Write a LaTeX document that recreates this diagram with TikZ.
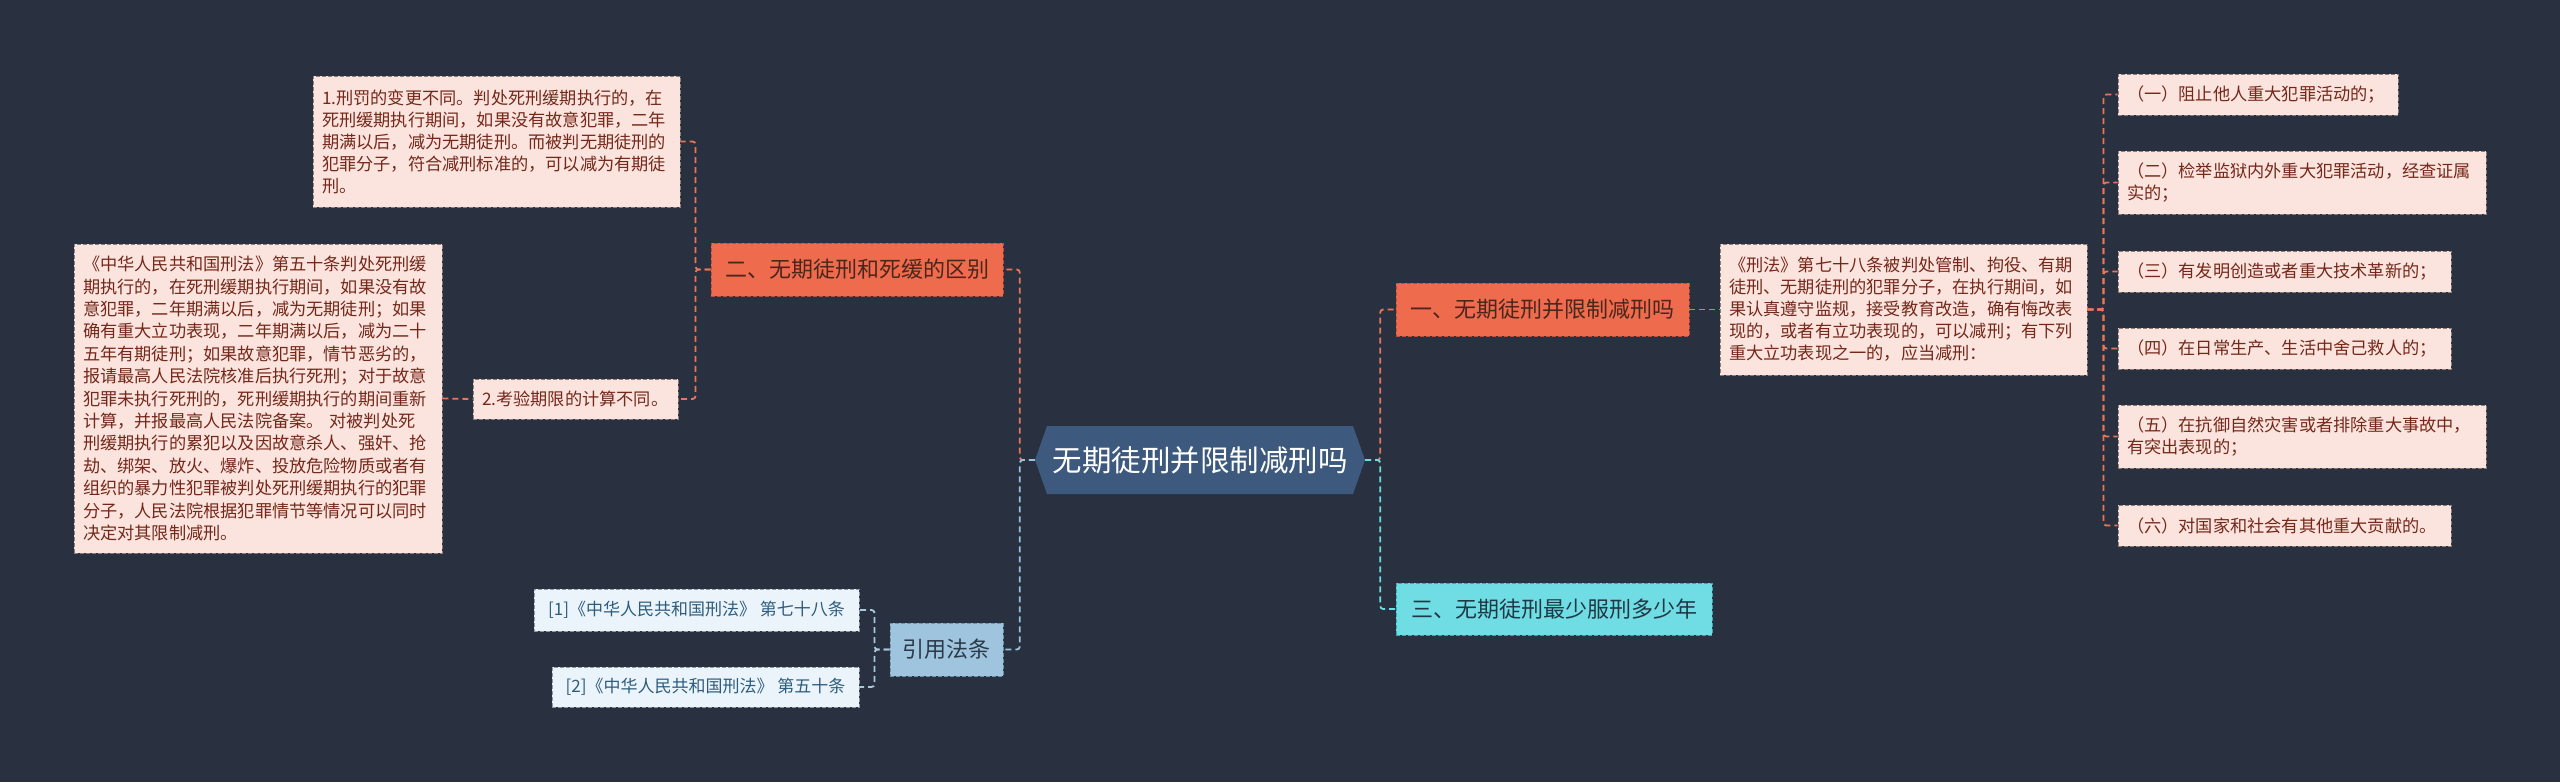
\documentclass[tikz,border=0pt]{standalone}
\usepackage{fontspec}
\setmainfont{Noto Sans CJK SC}
\definecolor{bg}{HTML}{29303F}
\definecolor{cfill}{HTML}{3D5A7E}
\definecolor{ofill}{HTML}{EE6B4D}
\definecolor{oborder}{HTML}{B9513A}
\definecolor{otext}{HTML}{4A261C}
\definecolor{pfill}{HTML}{FCE4DE}
\definecolor{pborder}{HTML}{8E7E7B}
\definecolor{ptext}{HTML}{74281A}
\definecolor{cyfill}{HTML}{6FDDE3}
\definecolor{cyborder}{HTML}{3AA7B3}
\definecolor{cytext}{HTML}{1F3845}
\definecolor{bfill}{HTML}{9FC4DE}
\definecolor{bborder}{HTML}{6E93AD}
\definecolor{btext}{HTML}{2B3A4A}
\definecolor{rfill}{HTML}{EAF4FA}
\definecolor{rborder}{HTML}{8A9BA8}
\definecolor{rtext}{HTML}{2E5C7D}
\definecolor{redl}{HTML}{E8775A}
\definecolor{cyl}{HTML}{6ADDE5}
\definecolor{bluel}{HTML}{96C4E0}
\definecolor{refl}{HTML}{A8C8DE}
\tikzset{
  pink/.style={fill=pfill, draw=pborder, line width=0.9pt, dash pattern=on 4pt off 2pt,
    font=\fontsize{17.2}{22}\selectfont, text=ptext, align=left, inner xsep=9pt, inner ysep=3pt},
  orangebox/.style={fill=ofill, draw=oborder, line width=0.9pt, dash pattern=on 4pt off 2pt,
    font=\fontsize{22}{26}\selectfont, text=otext, align=center, inner sep=0pt},
  cyanbox/.style={fill=cyfill, draw=cyborder, line width=0.9pt, dash pattern=on 4pt off 2pt,
    font=\fontsize{22}{26}\selectfont, text=cytext, align=center, inner sep=0pt},
  bluebox/.style={fill=bfill, draw=bborder, line width=0.9pt, dash pattern=on 4pt off 2pt,
    font=\fontsize{22}{26}\selectfont, text=btext, align=center, inner sep=0pt},
  refbox/.style={fill=rfill, draw=rborder, line width=0.9pt, dash pattern=on 4pt off 2pt,
    font=\fontsize{17}{22}\selectfont, text=rtext, align=center, inner sep=0pt},
  conn/.style={line width=1.8pt, dash pattern=on 6pt off 4pt, rounded corners=3pt},
  redconn/.style={conn, draw=redl},
  cyconn/.style={conn, draw=cyl},
  blueconn/.style={conn, draw=bluel},
  refconn/.style={conn, draw=refl},
}
\begin{document}
\begin{tikzpicture}[x=1pt,y=-1pt]
\useasboundingbox (0,0) rectangle (2560,782);
\fill[bg] (0,0) rectangle (2560,782);

% central
\fill[cfill] (1035,460) -- (1047,426) -- (1353,426) -- (1365,460) -- (1353,494) -- (1047,494) -- cycle;
\node[minimum width=330pt, minimum height=68pt, inner sep=0pt, text=white,
  font=\fontsize{29.5}{34}\selectfont] (c) at (1200,460) {无期徒刑并限制减刑吗};

% left branch
\node[orangebox, minimum width=292pt, minimum height=53pt] (n2) at (857,269.5) {二、无期徒刑和死缓的区别};
\node[pink, text width=349pt, minimum height=131pt] (b1) at (496.5,141.5) {1.刑罚的变更不同。判处死刑缓期执行的，在\\死刑缓期执行期间，如果没有故意犯罪，二年\\期满以后，减为无期徒刑。而被判无期徒刑的\\犯罪分子，符合减刑标准的，可以减为有期徒\\刑。};
\node[pink, text width=187pt, minimum height=40pt] (b2) at (575.5,399) {2.考验期限的计算不同。};
\node[pink, text width=350pt, minimum height=309pt, font=\fontsize{17.2}{22.4}\selectfont] (big) at (258,398.5) {《中华人民共和国刑法》第五十条判处死刑缓\\期执行的，在死刑缓期执行期间，如果没有故\\意犯罪，二年期满以后，减为无期徒刑；如果\\确有重大立功表现，二年期满以后，减为二十\\五年有期徒刑；如果故意犯罪，情节恶劣的，\\报请最高人民法院核准后执行死刑；对于故意\\犯罪未执行死刑的，死刑缓期执行的期间重新\\计算，并报最高人民法院备案。 对被判处死\\刑缓期执行的累犯以及因故意杀人、强奸、抢\\劫、绑架、放火、爆炸、投放危险物质或者有\\组织的暴力性犯罪被判处死刑缓期执行的犯罪\\分子，人民法院根据犯罪情节等情况可以同时\\决定对其限制减刑。};

\node[bluebox, minimum width=113pt, minimum height=53pt] (yy) at (946.5,649.5) {引用法条};
\node[refbox, minimum width=325pt, minimum height=42pt] (r1) at (696.5,610) {[1]《中华人民共和国刑法》 第七十八条};
\node[refbox, minimum width=307pt, minimum height=40pt] (r2) at (705.5,687) {[2]《中华人民共和国刑法》 第五十条};

% right branch
\node[orangebox, minimum width=293pt, minimum height=53pt] (n1) at (1542.5,309.5) {一、无期徒刑并限制减刑吗};
\node[cyanbox, minimum width=316pt, minimum height=52pt] (n3) at (1554,609) {三、无期徒刑最少服刑多少年};
\node[pink, text width=349pt, minimum height=131pt] (law) at (1903.5,309.5) {《刑法》第七十八条被判处管制、拘役、有期\\徒刑、无期徒刑的犯罪分子，在执行期间，如\\果认真遵守监规，接受教育改造，确有悔改表\\现的，或者有立功表现的，可以减刑；有下列\\重大立功表现之一的，应当减刑：};

\node[pink, text width=262pt, minimum height=41pt] (i1) at (2258,94.5) {（一）阻止他人重大犯罪活动的；};
\node[pink, text width=350pt, minimum height=63pt] (i2) at (2302,182.5) {（二）检举监狱内外重大犯罪活动，经查证属\\实的；};
\node[pink, text width=315pt, minimum height=41pt] (i3) at (2284.5,271.5) {（三）有发明创造或者重大技术革新的；};
\node[pink, text width=315pt, minimum height=41pt] (i4) at (2284.5,348.5) {（四）在日常生产、生活中舍己救人的；};
\node[pink, text width=350pt, minimum height=63pt] (i5) at (2302,436.5) {（五）在抗御自然灾害或者排除重大事故中，\\有突出表现的；};
\node[pink, text width=315pt, minimum height=41pt] (i6) at (2284.5,525.5) {（六）对国家和社会有其他重大贡献的。};

% connectors left
\draw[redconn] (c.west) -- ++(-15,0) |- (n2.east);
\draw[blueconn] (c.west) -- ++(-15,0) |- (yy.east);
\draw[redconn] (n2.west) -- ++(-15,0) |- (b1.east);
\draw[redconn] (n2.west) -- ++(-15,0) |- (b2.east);
\draw[redconn] (big.east) -- (b2.west);
\draw[refconn] (yy.west) -- ++(-15,0) |- (r1.east);
\draw[refconn] (yy.west) -- ++(-15,0) |- (r2.east);

% connectors right
\draw[redconn] (c.east) -- ++(15,0) |- (n1.west);
\draw[cyconn] (c.east) -- ++(15,0) |- (n3.west);
\draw[redconn] (n1.east) -- (law.west);
\foreach \i in {i1,i2,i3,i4,i5,i6}{
  \draw[redconn] (law.east) -- ++(16,0) |- (\i.west);
}
\end{tikzpicture}
\end{document}
